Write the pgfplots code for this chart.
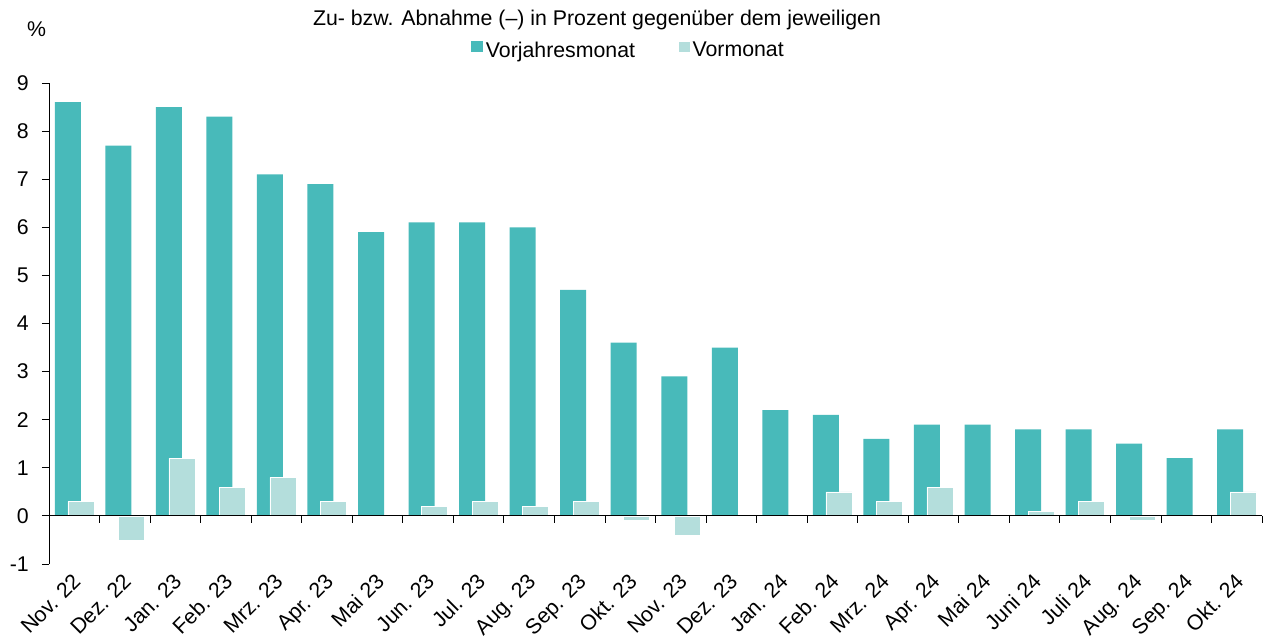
\documentclass[border=0pt]{standalone}
\usepackage{fontspec}
\setmainfont{Liberation Sans}
\usepackage{pgfplots}
\pgfplotsset{compat=1.18}
\definecolor{dark}{HTML}{48BABA}
\definecolor{light}{HTML}{B4DEDC}
\begin{document}
\fontsize{21.3bp}{25bp}\selectfont
\begin{tikzpicture}
\path[use as bounding box] (0,0) rectangle (1266bp,641bp);
\node[anchor=base] at (597bp,615bp) {Zu- bzw. Abnahme (–) in Prozent gegenüber dem jeweiligen};
\node[anchor=base west, inner sep=0pt] at (27bp,604bp) {\%};
\begin{axis}[
  at={(49bp,77bp)}, anchor=south west,
  scale only axis, width=1213bp, height=481bp,
  xmin=-0.5, xmax=23.5, ymin=-1, ymax=9,
  axis x line=middle, axis y line=left,
  axis line style={-, line width=0.8bp},
  axis on top,
  tick align=outside,
  major tick length=0pt, minor tick length=7bp,
  tick style={black, line width=0.8bp},
  xtick={0,...,23},
  xticklabels={Nov. 22, Dez. 22, Jan. 23, Feb. 23, Mrz. 23, Apr. 23, Mai 23, Jun. 23, Jul. 23, Aug. 23, Sep. 23, Okt. 23, Nov. 23, Dez. 23, Jan. 24, Feb. 24, Mrz. 24, Apr. 24, Mai 24, Juni 24, Juli 24, Aug. 24, Sep. 24, Okt. 24},
  minor xtick={-0.5,0.5,...,23.5},
  ytick={-1,0,...,9},
  yticklabels={-1,0,1,2,3,4,5,6,7,8,9},
  minor ytick={-1,0,...,9},
  xticklabel style={xshift=-3bp, yshift=-56bp, rotate=45, anchor=north east, inner sep=0pt},
  yticklabel style={anchor=east, inner sep=0pt, xshift=-20bp},
  legend columns=2,
  legend style={at={(0.478,1.0665)}, anchor=center, draw=none, fill=none,
    /tikz/every even column/.append style={column sep=40bp},
    nodes={inner sep=2.5bp}},
  sq/.style={legend image code/.code={\fill[##1] (0bp,-1bp) rectangle (12bp,10bp);}},
]
\addplot[ybar, bar width=26bp, bar shift=-6.5bp, fill=dark, draw=none, sq] coordinates {
(0,8.6) (1,7.7) (2,8.5) (3,8.3) (4,7.1) (5,6.9) (6,5.9) (7,6.1) (8,6.1) (9,6.0) (10,4.7) (11,3.6)
(12,2.9) (13,3.5) (14,2.2) (15,2.1) (16,1.6) (17,1.9) (18,1.9) (19,1.8) (20,1.8) (21,1.5) (22,1.2) (23,1.8)};
\addlegendentry{Vorjahresmonat}
\addplot[ybar, bar width=26bp, bar shift=6.5bp, fill=light, draw=white, line width=0.5bp, sq] coordinates {
(0,0.3) (1,-0.5) (2,1.2) (3,0.6) (4,0.8) (5,0.3) (6,0.0) (7,0.2) (8,0.3) (9,0.2) (10,0.3) (11,-0.1)
(12,-0.4) (13,0.0) (14,0.0) (15,0.5) (16,0.3) (17,0.6) (18,0.0) (19,0.1) (20,0.3) (21,-0.1) (22,0.0) (23,0.5)};
\addlegendentry{Vormonat}
\end{axis}
\end{tikzpicture}
\end{document}
